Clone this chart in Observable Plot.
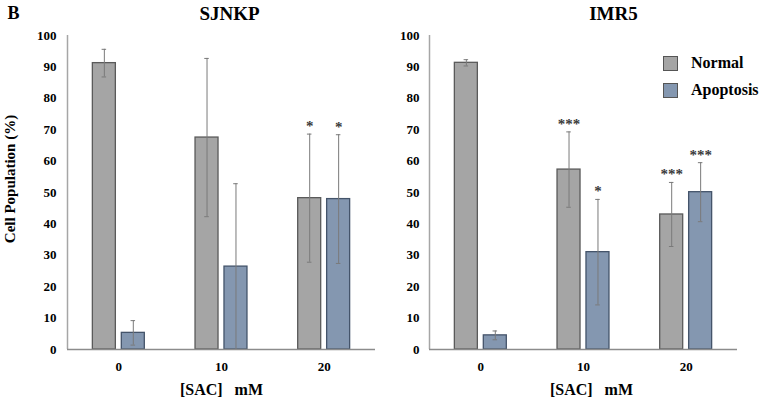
<!DOCTYPE html>
<html><head><meta charset="utf-8">
<script src="https://cdn.jsdelivr.net/npm/d3@7"></script>
<script src="https://cdn.jsdelivr.net/npm/@observablehq/plot@0.6"></script>
<style>
body{margin:0;background:#fff;font-family:"Liberation Serif",serif;}
#wrap{position:relative;width:765px;height:404px;overflow:hidden;background:#fff;}
#wrap svg{position:absolute;top:0;}
#wrap svg text{font-family:"Liberation Serif",serif !important;font-weight:bold;}
#wrap svg text.star{font-weight:normal;}
.leg{position:absolute;left:663px;display:flex;align-items:center;font-weight:bold;font-size:16px;color:#000;font-family:"Liberation Serif",serif;}
.leg span.sw{display:inline-block;width:13px;height:13px;border:1px solid #555;margin-right:13px;}
</style></head><body><div id="wrap"></div>
<script>
const doses = ["0", "10", "20"];
const seriesNames = ["Normal", "Apoptosis"];
const seriesColors = ["#a5a5a5", "#8497b0"];
const seriesStrokes = ["#5a5a5a", "#44546a"];
const yTicks = [0, 10, 20, 30, 40, 50, 60, 70, 80, 90, 100];

const sjnkpNormal = [91.2, 67.5, 48.2];
const sjnkpNormalErr = [4.4, 25.2, 20.4];
const sjnkpNormalSig = ["", "", "*"];
const sjnkpApoptosis = [5.3, 26.4, 47.9];
const sjnkpApoptosisErr = [3.9, 26.4, 20.5];
const sjnkpApoptosisSig = ["", "", "*"];

const imr5Normal = [91.3, 57.3, 43.0];
const imr5NormalErr = [1.0, 12.0, 10.2];
const imr5NormalSig = ["", "***", "***"];
const imr5Apoptosis = [4.5, 31.0, 50.1];
const imr5ApoptosisErr = [1.4, 16.8, 9.4];
const imr5ApoptosisSig = ["", "*", "***"];

const FONT = "Liberation Serif";

function rows(nv, ne, ns, av, ae, as) {
  const out = [];
  doses.forEach((dose, i) => {
    out.push({dose, i, series: "Normal", value: nv[i], err: ne[i], sig: ns[i]});
    out.push({dose, i, series: "Apoptosis", value: av[i], err: ae[i], sig: as[i]});
  });
  return out;
}

const OFF = 0.141, HW = 0.112, CAP = 0.022;
const cx = d => d.i + 0.5 + (d.series === "Normal" ? -OFF : OFF);

function panel({data, title, titleDx, width, marginLeft, marginRight, tickPadding, xLabelDx, extra}) {
  const marks = [];
  seriesNames.forEach((s, k) => {
    const sub = data.filter(d => d.series === s);
    marks.push(Plot.rectY(sub, {x1: d => cx(d) - HW, x2: d => cx(d) + HW, y1: 0, y2: "value",
      fill: seriesColors[k], stroke: seriesStrokes[k], strokeWidth: 1.3}));
  });
  marks.push(
    Plot.ruleX(data, {x: cx, y1: d => Math.max(0, d.value - d.err), y2: d => d.value + d.err, stroke: "#7a7a7a", strokeWidth: 1}),
    Plot.ruleY(data, {y: d => d.value + d.err, x1: d => cx(d) - CAP, x2: d => cx(d) + CAP, stroke: "#7a7a7a", strokeWidth: 1}),
    Plot.ruleY(data, {y: d => Math.max(0, d.value - d.err), x1: d => cx(d) - CAP, x2: d => cx(d) + CAP, stroke: "#7a7a7a", strokeWidth: 1}),
    Plot.text(data.filter(d => d.sig), {x: cx, y: d => d.value + d.err, text: "sig", lineAnchor: "bottom", dy: -3, fontSize: 15, fill: "#3a3a3a", fontFamily: FONT, className: "star"}),
    Plot.ruleX([0], {stroke: "#a6a6a6", strokeWidth: 1.5}),
    Plot.ruleY([0], {stroke: "#8c8c8c", strokeWidth: 1.5}),
    Plot.axisY({ticks: yTicks, tickSize: 0, tickPadding, fontSize: 13, fontFamily: FONT, label: null}),
    Plot.axisX({ticks: doses.map((d, i) => i + 0.5), tickFormat: t => doses[Math.floor(t)], tickSize: 0, tickPadding: 12, fontSize: 13, fontFamily: FONT, label: null}),
    Plot.text(["[SAC]\u00a0\u00a0 mM"], {frameAnchor: "bottom", lineAnchor: "bottom", dy: 45, dx: xLabelDx, fontSize: 16, fontFamily: FONT}),
    Plot.text([title], {frameAnchor: "top", lineAnchor: "middle", dy: -21.5, dx: titleDx, fontSize: 19, fontFamily: FONT}),
    ...(extra || [])
  );
  return Plot.plot({
    width, height: 404, marginTop: 35, marginBottom: 55, marginLeft, marginRight,
    x: {domain: [0, 3], axis: null},
    y: {domain: [0, 100], axis: null},
    style: {fontFamily: FONT, fontWeight: "bold", background: "transparent", color: "#000"},
    marks
  });
}

const wrap = document.getElementById("wrap");

const left = panel({
  data: rows(sjnkpNormal, sjnkpNormalErr, sjnkpNormalSig, sjnkpApoptosis, sjnkpApoptosisErr, sjnkpApoptosisSig),
  title: "SJNKP", titleDx: 8, width: 380, marginLeft: 67, marginRight: 5, tickPadding: 11, xLabelDx: 0,
  extra: [
    Plot.text(["Cell Population (%)"], {frameAnchor: "left", textAnchor: "middle", lineAnchor: "middle", rotate: -90, dx: -57, dy: -13.5, fontSize: 15, fontFamily: FONT}),
    Plot.text(["B"], {frameAnchor: "top-left", textAnchor: "start", lineAnchor: "middle", dx: -60, dy: -22, fontSize: 18, fontFamily: FONT})
  ]
});
left.style.left = "0px";
wrap.appendChild(left);

const right = panel({
  data: rows(imr5Normal, imr5NormalErr, imr5NormalSig, imr5Apoptosis, imr5ApoptosisErr, imr5ApoptosisSig),
  title: "IMR5", titleDx: 30, width: 385, marginLeft: 49, marginRight: 28, tickPadding: 10, xLabelDx: 8
});
right.style.left = "380px";
wrap.appendChild(right);

seriesNames.forEach((s, k) => {
  const div = document.createElement("div");
  div.className = "leg";
  div.style.top = (54 + k * 27) + "px";
  const sw = document.createElement("span");
  sw.className = "sw";
  sw.style.background = seriesColors[k];
  div.appendChild(sw);
  div.appendChild(document.createTextNode(s));
  wrap.appendChild(div);
});
</script>
</body></html>
